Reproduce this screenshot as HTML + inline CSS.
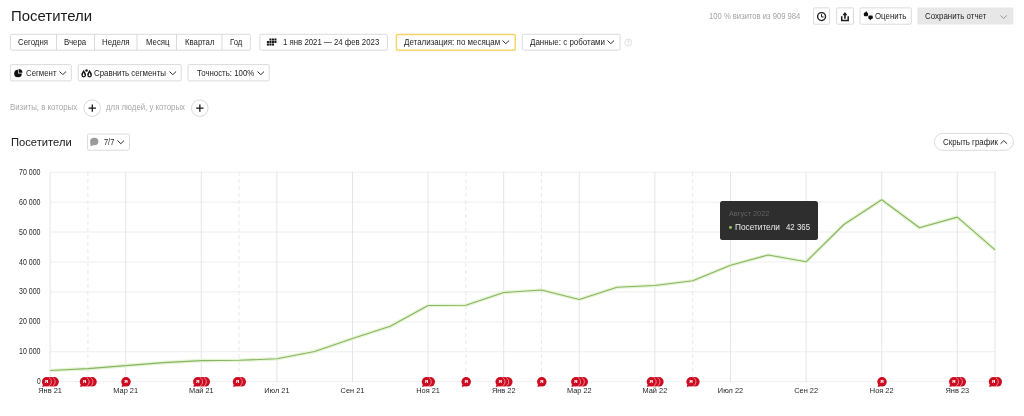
<!DOCTYPE html>
<html><head><meta charset="utf-8"><title>Посетители</title>
<style>
*{box-sizing:border-box;margin:0;padding:0}
html,body{width:1024px;height:416px;overflow:hidden;background:#fff}
body{font-family:"Liberation Sans",sans-serif;color:#222;position:relative}
#txt{position:absolute;left:0;top:0;width:1024px;height:416px;will-change:transform;transform:translateZ(0);filter:blur(0.35px)}
.abs{position:absolute}
.t{position:absolute;white-space:nowrap;line-height:1;transform-origin:0 0;display:block}
.bx{position:absolute;border:1px solid #dbdbdb;border-radius:2px;background:#fff}
</style></head><body>
<div id="txt">

<svg class="abs" style="left:0;top:0" width="1024" height="160" viewBox="0 0 1024 160"><rect x="10.4" y="34.3" width="239.90" height="15.90" rx="1.2" fill="#fff" stroke="#dbdbdb" stroke-width="1"/><line x1="56.5" x2="56.5" y1="34.3" y2="50.2" stroke="#d9d9d9" stroke-width="1"/><line x1="94.5" x2="94.5" y1="34.3" y2="50.2" stroke="#d9d9d9" stroke-width="1"/><line x1="137" x2="137" y1="34.3" y2="50.2" stroke="#d9d9d9" stroke-width="1"/><line x1="176.5" x2="176.5" y1="34.3" y2="50.2" stroke="#d9d9d9" stroke-width="1"/><line x1="222" x2="222" y1="34.3" y2="50.2" stroke="#d9d9d9" stroke-width="1"/><rect x="259.9" y="34.3" width="127.50" height="15.90" rx="1.2" fill="#fff" stroke="#dbdbdb" stroke-width="1"/><rect x="396.4" y="34.4" width="118.90" height="15.80" rx="1.2" fill="#fff" stroke="#f6d668" stroke-width="1.5"/><rect x="522.3" y="34.3" width="97.80" height="15.90" rx="1.2" fill="#fff" stroke="#dbdbdb" stroke-width="1"/><rect x="10.4" y="64.6" width="60.90" height="16.30" rx="1.2" fill="#fff" stroke="#dbdbdb" stroke-width="1"/><rect x="78.3" y="64.6" width="102.90" height="16.30" rx="1.2" fill="#fff" stroke="#dbdbdb" stroke-width="1"/><rect x="188" y="64.6" width="81.20" height="16.30" rx="1.2" fill="#fff" stroke="#dbdbdb" stroke-width="1"/><circle cx="92.2" cy="108.15" r="8.3" fill="#fff" stroke="#d8d8d8"/><circle cx="199.8" cy="108.15" r="8.3" fill="#fff" stroke="#d8d8d8"/><rect x="87.6" y="134" width="41.90" height="16.20" rx="1.2" fill="#fff" stroke="#dbdbdb" stroke-width="1"/><rect x="813.5" y="7.9" width="16.10" height="16.30" rx="1.2" fill="#fff" stroke="#dbdbdb" stroke-width="1"/><rect x="836.6" y="7.9" width="16.90" height="16.30" rx="1.2" fill="#fff" stroke="#dbdbdb" stroke-width="1"/><rect x="860" y="7.9" width="51.30" height="16.30" rx="1.2" fill="#fff" stroke="#dbdbdb" stroke-width="1"/><rect x="917.4" y="7.6" width="95.90" height="16.80" rx="1.2" fill="#e7e7e7" stroke="none" stroke-width="1"/><rect x="934.4" y="133.4" width="79.10" height="16.90" rx="8.45" fill="#fff" stroke="#dbdbdb" stroke-width="1"/><circle cx="628.3" cy="42.5" r="3.5" fill="none" stroke="#d8d8d8" stroke-width="0.8"/><path d="M627.2 41.6 A1.1 1.1 0 1 1 628.3 42.7 V43.4 M628.3 44.2 V44.9" fill="none" stroke="#d0d0d0" stroke-width="0.7"/><path d="M92.3 104.55000000000001V111.75M88.6 108.15H96.0" stroke="#1a1a1a" stroke-width="1.3"/><path d="M199.85 104.55000000000001V111.75M196.15 108.15H203.54999999999998" stroke="#1a1a1a" stroke-width="1.3"/><rect x="269.40" y="38.50" width="2.05" height="2.05" fill="#161616"/><rect x="271.90" y="38.50" width="2.05" height="2.05" fill="#161616"/><rect x="274.40" y="38.50" width="2.05" height="2.05" fill="#161616"/><rect x="266.90" y="41.00" width="2.05" height="2.05" fill="#161616"/><rect x="269.40" y="41.00" width="2.05" height="2.05" fill="#161616"/><rect x="271.90" y="41.00" width="2.05" height="2.05" fill="#161616"/><rect x="274.40" y="41.00" width="2.05" height="2.05" fill="#161616"/><rect x="266.90" y="43.50" width="2.05" height="2.05" fill="#161616"/><rect x="269.40" y="43.50" width="2.05" height="2.05" fill="#161616"/><rect x="271.90" y="43.50" width="2.05" height="2.05" fill="#161616"/><g transform="translate(14.1,69.0)" fill="#111"><path d="M3.9 0.65 A3.85 3.85 0 1 0 7.75 4.5 L3.9 4.5 Z"/><path d="M4.55 0 A3.85 3.85 0 0 1 8.4 3.85 L4.55 3.85 Z"/></g><path d="M83.7 69.7 C83.00 71.40 81.35 72.90 81.35 75.05 A2.35 2.35 0 0 0 86.05 75.05 C86.05 72.90 84.40 71.40 83.7 69.7Z" fill="#111"/><path d="M83.7 72.6 C83.00 74.30 82.70 75.80 82.70 75.30 A1.0 1.0 0 0 0 84.70 75.30 C84.70 75.80 84.40 74.30 83.7 72.6Z" fill="#fff"/><path d="M89.6 69.7 C88.90 71.40 87.25 72.90 87.25 75.05 A2.35 2.35 0 0 0 91.95 75.05 C91.95 72.90 90.30 71.40 89.6 69.7Z" fill="#111"/><path d="M89.6 72.6 C88.90 74.30 88.60 75.80 88.60 75.30 A1.0 1.0 0 0 0 90.60 75.30 C90.60 75.80 90.30 74.30 89.6 72.6Z" fill="#fff"/><circle cx="86.55" cy="70.5" r="1.25" fill="#111"/><g fill="#9a9a9a"><ellipse cx="94.25" cy="141.5" rx="4.1" ry="3.75"/><path d="M90.6 142.5 L90.5 146.3 L93.6 144.9Z"/></g><circle cx="821.55" cy="16.6" r="3.95" fill="none" stroke="#1a1a1a" stroke-width="1.35"/><path d="M821.5 14.2V16.9H823.6" fill="none" stroke="#1a1a1a" stroke-width="1"/><path d="M841.7 16.2V20.6H848.2V16.2" fill="none" stroke="#1a1a1a" stroke-width="1.5"/><path d="M844.95 18.8V14.5" stroke="#1a1a1a" stroke-width="1.6"/><path d="M842.5 15.3 L844.95 12.1 L847.4 15.3Z" fill="#1a1a1a"/><g fill="#111"><rect x="863.8" y="12.5" width="4.3" height="3.8" rx="1.3"/><path d="M865 13 L866.3 10.9 L867.2 13Z"/><rect x="868.3" y="15.4" width="4.5" height="3.6" rx="1.3"/><path d="M869.3 18.5 L870.2 20.5 L871.6 18.5Z"/></g></svg>
<svg class="abs" style="left:502.4px;top:40.2px" width="7.6" height="4.5" viewBox="0 0 7.6 4.5"><path d="M0.5 0.5 L3.80 3.7 L7.1 0.5" fill="none" stroke="#2a2a2a" stroke-width="1.0"/></svg>
<svg class="abs" style="left:607.2px;top:40.2px" width="7.6" height="4.5" viewBox="0 0 7.6 4.5"><path d="M0.5 0.5 L3.80 3.7 L7.1 0.5" fill="none" stroke="#2a2a2a" stroke-width="1.0"/></svg>
<svg class="abs" style="left:59.2px;top:70.9px" width="7.6" height="4.5" viewBox="0 0 7.6 4.5"><path d="M0.5 0.5 L3.80 3.7 L7.1 0.5" fill="none" stroke="#2a2a2a" stroke-width="1.0"/></svg>
<svg class="abs" style="left:169px;top:70.9px" width="7.6" height="4.5" viewBox="0 0 7.6 4.5"><path d="M0.5 0.5 L3.80 3.7 L7.1 0.5" fill="none" stroke="#2a2a2a" stroke-width="1.0"/></svg>
<svg class="abs" style="left:256.8px;top:70.9px" width="7.6" height="4.5" viewBox="0 0 7.6 4.5"><path d="M0.5 0.5 L3.80 3.7 L7.1 0.5" fill="none" stroke="#2a2a2a" stroke-width="1.0"/></svg>
<svg class="abs" style="left:117.1px;top:140.4px" width="7.6" height="4.5" viewBox="0 0 7.6 4.5"><path d="M0.5 0.5 L3.80 3.7 L7.1 0.5" fill="none" stroke="#2a2a2a" stroke-width="1.0"/></svg>
<svg class="abs" style="left:1000.3px;top:140.0px" width="7.6" height="4.5" viewBox="0 0 7.6 4.5"><path d="M0.5 3.8 L3.80 0.6 L7.1 3.8" fill="none" stroke="#2a2a2a" stroke-width="1.0"/></svg>
<svg class="abs" style="left:1000.4px;top:14.5px" width="7.4" height="4.2" viewBox="0 0 7.4 4.2"><path d="M0.5 0.5 L3.70 3.4 L6.9 0.5" fill="none" stroke="#8c8c8c" stroke-width="0.9"/></svg>
<svg class="abs" style="left:0;top:0" width="1024" height="416" viewBox="0 0 1024 416">
<line x1="50" x2="995.5" y1="172.2" y2="172.2" stroke="#eeeeee" stroke-width="1"/>
<line x1="50" x2="995.5" y1="202.13" y2="202.13" stroke="#eeeeee" stroke-width="1"/>
<line x1="50" x2="995.5" y1="232.06" y2="232.06" stroke="#eeeeee" stroke-width="1"/>
<line x1="50" x2="995.5" y1="261.99" y2="261.99" stroke="#eeeeee" stroke-width="1"/>
<line x1="50" x2="995.5" y1="291.91999999999996" y2="291.91999999999996" stroke="#eeeeee" stroke-width="1"/>
<line x1="50" x2="995.5" y1="321.85" y2="321.85" stroke="#eeeeee" stroke-width="1"/>
<line x1="50" x2="995.5" y1="351.78" y2="351.78" stroke="#eeeeee" stroke-width="1"/>
<line x1="50" x2="995.5" y1="381.71" y2="381.71" stroke="#eeeeee" stroke-width="1"/>
<line x1="50.1" x2="50.1" y1="172" y2="382" stroke="#e5e5e5" stroke-width="1"/>
<line x1="125.7" x2="125.7" y1="172" y2="382" stroke="#e5e5e5" stroke-width="1"/>
<line x1="201.3" x2="201.3" y1="172" y2="382" stroke="#e5e5e5" stroke-width="1"/>
<line x1="276.9" x2="276.9" y1="172" y2="382" stroke="#e5e5e5" stroke-width="1"/>
<line x1="352.5" x2="352.5" y1="172" y2="382" stroke="#e5e5e5" stroke-width="1"/>
<line x1="428.1" x2="428.1" y1="172" y2="382" stroke="#e5e5e5" stroke-width="1"/>
<line x1="503.7" x2="503.7" y1="172" y2="382" stroke="#e5e5e5" stroke-width="1"/>
<line x1="579.3" x2="579.3" y1="172" y2="382" stroke="#e5e5e5" stroke-width="1"/>
<line x1="654.9" x2="654.9" y1="172" y2="382" stroke="#e5e5e5" stroke-width="1"/>
<line x1="730.5" x2="730.5" y1="172" y2="382" stroke="#e5e5e5" stroke-width="1"/>
<line x1="806.1" x2="806.1" y1="172" y2="382" stroke="#e5e5e5" stroke-width="1"/>
<line x1="881.7" x2="881.7" y1="172" y2="382" stroke="#e5e5e5" stroke-width="1"/>
<line x1="957.3" x2="957.3" y1="172" y2="382" stroke="#e5e5e5" stroke-width="1"/>
<line x1="87.9" x2="87.9" y1="172" y2="382" stroke="#e9e9e9" stroke-width="1" stroke-dasharray="4 3"/>
<line x1="239.1" x2="239.1" y1="172" y2="382" stroke="#e9e9e9" stroke-width="1" stroke-dasharray="4 3"/>
<line x1="465.9" x2="465.9" y1="172" y2="382" stroke="#e9e9e9" stroke-width="1" stroke-dasharray="4 3"/>
<line x1="541.5" x2="541.5" y1="172" y2="382" stroke="#e9e9e9" stroke-width="1" stroke-dasharray="4 3"/>
<line x1="692.7" x2="692.7" y1="172" y2="382" stroke="#e9e9e9" stroke-width="1" stroke-dasharray="4 3"/>
<line x1="995.1" x2="995.1" y1="172" y2="382.5" stroke="#e4e4e4" stroke-width="1"/>
<polyline points="50.1,370.5 87.9,368.6 125.7,365.6 163.5,362.6 201.3,360.6 239.1,360.3 276.9,358.8 314.7,351.5 352.5,338.5 390.3,326.3 428.1,305.5 465.9,305.3 503.7,292.5 541.5,290 579.3,299.5 617.1,287.3 654.9,285.5 692.7,280.8 730.5,265.3 768.3,255 806.1,261.8 843.9,224.5 881.7,199.8 919.5,227.8 957.3,217.1 995.1,249.9" fill="none" stroke="#e6f5d6" stroke-width="3.6" stroke-linejoin="round"/>
<polyline points="50.1,370.5 87.9,368.6 125.7,365.6 163.5,362.6 201.3,360.6 239.1,360.3 276.9,358.8 314.7,351.5 352.5,338.5 390.3,326.3 428.1,305.5 465.9,305.3 503.7,292.5 541.5,290 579.3,299.5 617.1,287.3 654.9,285.5 692.7,280.8 730.5,265.3 768.3,255 806.1,261.8 843.9,224.5 881.7,199.8 919.5,227.8 957.3,217.1 995.1,249.9" fill="none" stroke="#89b463" stroke-width="1.15" stroke-linejoin="round"/>
<circle cx="54.1" cy="381.8" r="4.75" fill="#cc0b21"/>
<circle cx="50.4" cy="381.8" r="4.75" fill="#cc0b21"/>
<path d="M52.77,377.69 A4.75,4.75 0 0 1 52.77,385.91" fill="none" stroke="#f5bcc2" stroke-width="0.7"/>
<circle cx="46.6" cy="381.8" r="4.75" fill="#cc0b21"/>
<path d="M49.02,377.69 A4.75,4.75 0 0 1 49.02,385.91" fill="none" stroke="#f5bcc2" stroke-width="0.7"/>
<path d="M42.8,384.40000000000003 L42.4,387.1 L45.1,386.25 Z" fill="#cc0b21"/>
<text x="46.6" y="383.45" font-size="6.2" font-weight="bold" fill="#fff" text-anchor="middle" font-family="Liberation Sans, sans-serif">я</text>
<circle cx="92.0" cy="381.8" r="4.75" fill="#cc0b21"/>
<circle cx="88.2" cy="381.8" r="4.75" fill="#cc0b21"/>
<path d="M90.58,377.69 A4.75,4.75 0 0 1 90.58,385.91" fill="none" stroke="#f5bcc2" stroke-width="0.7"/>
<circle cx="84.5" cy="381.8" r="4.75" fill="#cc0b21"/>
<path d="M86.83,377.69 A4.75,4.75 0 0 1 86.83,385.91" fill="none" stroke="#f5bcc2" stroke-width="0.7"/>
<path d="M80.5,384.40000000000003 L80.2,387.1 L83.0,386.25 Z" fill="#cc0b21"/>
<text x="84.5" y="383.45" font-size="6.2" font-weight="bold" fill="#fff" text-anchor="middle" font-family="Liberation Sans, sans-serif">я</text>
<circle cx="126.0" cy="381.8" r="4.75" fill="#cc0b21"/>
<path d="M122.1,384.40000000000003 L121.7,387.1 L124.5,386.25 Z" fill="#cc0b21"/>
<text x="126.0" y="383.45" font-size="6.2" font-weight="bold" fill="#fff" text-anchor="middle" font-family="Liberation Sans, sans-serif">я</text>
<circle cx="205.3" cy="381.8" r="4.75" fill="#cc0b21"/>
<circle cx="201.6" cy="381.8" r="4.75" fill="#cc0b21"/>
<path d="M203.97,377.69 A4.75,4.75 0 0 1 203.97,385.91" fill="none" stroke="#f5bcc2" stroke-width="0.7"/>
<circle cx="197.8" cy="381.8" r="4.75" fill="#cc0b21"/>
<path d="M200.22,377.69 A4.75,4.75 0 0 1 200.22,385.91" fill="none" stroke="#f5bcc2" stroke-width="0.7"/>
<path d="M193.9,384.40000000000003 L193.5,387.1 L196.3,386.25 Z" fill="#cc0b21"/>
<text x="197.8" y="383.45" font-size="6.2" font-weight="bold" fill="#fff" text-anchor="middle" font-family="Liberation Sans, sans-serif">я</text>
<circle cx="241.3" cy="381.8" r="4.75" fill="#cc0b21"/>
<circle cx="237.5" cy="381.8" r="4.75" fill="#cc0b21"/>
<path d="M239.90,377.69 A4.75,4.75 0 0 1 239.90,385.91" fill="none" stroke="#f5bcc2" stroke-width="0.7"/>
<path d="M233.6,384.40000000000003 L233.2,387.1 L236.0,386.25 Z" fill="#cc0b21"/>
<text x="237.5" y="383.45" font-size="6.2" font-weight="bold" fill="#fff" text-anchor="middle" font-family="Liberation Sans, sans-serif">я</text>
<circle cx="430.3" cy="381.8" r="4.75" fill="#cc0b21"/>
<circle cx="426.5" cy="381.8" r="4.75" fill="#cc0b21"/>
<path d="M428.90,377.69 A4.75,4.75 0 0 1 428.90,385.91" fill="none" stroke="#f5bcc2" stroke-width="0.7"/>
<path d="M422.6,384.40000000000003 L422.2,387.1 L425.0,386.25 Z" fill="#cc0b21"/>
<text x="426.5" y="383.45" font-size="6.2" font-weight="bold" fill="#fff" text-anchor="middle" font-family="Liberation Sans, sans-serif">я</text>
<circle cx="466.2" cy="381.8" r="4.75" fill="#cc0b21"/>
<path d="M462.3,384.40000000000003 L461.9,387.1 L464.7,386.25 Z" fill="#cc0b21"/>
<text x="466.2" y="383.45" font-size="6.2" font-weight="bold" fill="#fff" text-anchor="middle" font-family="Liberation Sans, sans-serif">я</text>
<circle cx="507.8" cy="381.8" r="4.75" fill="#cc0b21"/>
<circle cx="504.0" cy="381.8" r="4.75" fill="#cc0b21"/>
<path d="M506.38,377.69 A4.75,4.75 0 0 1 506.38,385.91" fill="none" stroke="#f5bcc2" stroke-width="0.7"/>
<circle cx="500.2" cy="381.8" r="4.75" fill="#cc0b21"/>
<path d="M502.62,377.69 A4.75,4.75 0 0 1 502.62,385.91" fill="none" stroke="#f5bcc2" stroke-width="0.7"/>
<path d="M496.4,384.40000000000003 L495.9,387.1 L498.8,386.25 Z" fill="#cc0b21"/>
<text x="500.2" y="383.45" font-size="6.2" font-weight="bold" fill="#fff" text-anchor="middle" font-family="Liberation Sans, sans-serif">я</text>
<circle cx="541.8" cy="381.8" r="4.75" fill="#cc0b21"/>
<path d="M537.9,384.40000000000003 L537.5,387.1 L540.3,386.25 Z" fill="#cc0b21"/>
<text x="541.8" y="383.45" font-size="6.2" font-weight="bold" fill="#fff" text-anchor="middle" font-family="Liberation Sans, sans-serif">я</text>
<circle cx="583.3" cy="381.8" r="4.75" fill="#cc0b21"/>
<circle cx="579.6" cy="381.8" r="4.75" fill="#cc0b21"/>
<path d="M581.97,377.69 A4.75,4.75 0 0 1 581.97,385.91" fill="none" stroke="#f5bcc2" stroke-width="0.7"/>
<circle cx="575.8" cy="381.8" r="4.75" fill="#cc0b21"/>
<path d="M578.22,377.69 A4.75,4.75 0 0 1 578.22,385.91" fill="none" stroke="#f5bcc2" stroke-width="0.7"/>
<path d="M571.9,384.40000000000003 L571.5,387.1 L574.3,386.25 Z" fill="#cc0b21"/>
<text x="575.8" y="383.45" font-size="6.2" font-weight="bold" fill="#fff" text-anchor="middle" font-family="Liberation Sans, sans-serif">я</text>
<circle cx="658.9" cy="381.8" r="4.75" fill="#cc0b21"/>
<circle cx="655.2" cy="381.8" r="4.75" fill="#cc0b21"/>
<path d="M657.57,377.69 A4.75,4.75 0 0 1 657.57,385.91" fill="none" stroke="#f5bcc2" stroke-width="0.7"/>
<circle cx="651.4" cy="381.8" r="4.75" fill="#cc0b21"/>
<path d="M653.82,377.69 A4.75,4.75 0 0 1 653.82,385.91" fill="none" stroke="#f5bcc2" stroke-width="0.7"/>
<path d="M647.5,384.40000000000003 L647.1,387.1 L649.9,386.25 Z" fill="#cc0b21"/>
<text x="651.4" y="383.45" font-size="6.2" font-weight="bold" fill="#fff" text-anchor="middle" font-family="Liberation Sans, sans-serif">я</text>
<circle cx="694.9" cy="381.8" r="4.75" fill="#cc0b21"/>
<circle cx="691.1" cy="381.8" r="4.75" fill="#cc0b21"/>
<path d="M693.50,377.69 A4.75,4.75 0 0 1 693.50,385.91" fill="none" stroke="#f5bcc2" stroke-width="0.7"/>
<path d="M687.2,384.40000000000003 L686.8,387.1 L689.6,386.25 Z" fill="#cc0b21"/>
<text x="691.1" y="383.45" font-size="6.2" font-weight="bold" fill="#fff" text-anchor="middle" font-family="Liberation Sans, sans-serif">я</text>
<circle cx="882.0" cy="381.8" r="4.75" fill="#cc0b21"/>
<path d="M878.1,384.40000000000003 L877.7,387.1 L880.5,386.25 Z" fill="#cc0b21"/>
<text x="882.0" y="383.45" font-size="6.2" font-weight="bold" fill="#fff" text-anchor="middle" font-family="Liberation Sans, sans-serif">я</text>
<circle cx="961.3" cy="381.8" r="4.75" fill="#cc0b21"/>
<circle cx="957.6" cy="381.8" r="4.75" fill="#cc0b21"/>
<path d="M959.97,377.69 A4.75,4.75 0 0 1 959.97,385.91" fill="none" stroke="#f5bcc2" stroke-width="0.7"/>
<circle cx="953.8" cy="381.8" r="4.75" fill="#cc0b21"/>
<path d="M956.22,377.69 A4.75,4.75 0 0 1 956.22,385.91" fill="none" stroke="#f5bcc2" stroke-width="0.7"/>
<path d="M949.9,384.40000000000003 L949.5,387.1 L952.3,386.25 Z" fill="#cc0b21"/>
<text x="953.8" y="383.45" font-size="6.2" font-weight="bold" fill="#fff" text-anchor="middle" font-family="Liberation Sans, sans-serif">я</text>
<circle cx="997.3" cy="381.8" r="4.75" fill="#cc0b21"/>
<circle cx="993.5" cy="381.8" r="4.75" fill="#cc0b21"/>
<path d="M995.90,377.69 A4.75,4.75 0 0 1 995.90,385.91" fill="none" stroke="#f5bcc2" stroke-width="0.7"/>
<path d="M989.6,384.40000000000003 L989.2,387.1 L992.0,386.25 Z" fill="#cc0b21"/>
<text x="993.5" y="383.45" font-size="6.2" font-weight="bold" fill="#fff" text-anchor="middle" font-family="Liberation Sans, sans-serif">я</text>
</svg>
<div class="abs" style="left:719.6px;top:201.2px;width:98.4px;height:38.5px;background:#2e2e2e;border-radius:2.5px"></div>
<div class="abs" style="left:728.8px;top:225.8px;width:2.8px;height:2.8px;border-radius:50%;background:#8fbf5e"></div>
<span class="t" id="t0" style="left:10.50px;top:8.00px;font-size:15.4px;color:#1a1a1a;transform:scaleX(0.9699);">Посетители</span>
<span class="t" id="t1" style="left:18.00px;top:38.00px;font-size:8.8px;color:#1e1e1e;transform:scaleX(0.8897);">Сегодня</span>
<span class="t" id="t2" style="left:64.00px;top:38.00px;font-size:8.8px;color:#1e1e1e;transform:scaleX(0.8956);">Вчера</span>
<span class="t" id="t3" style="left:102.00px;top:38.00px;font-size:8.8px;color:#1e1e1e;transform:scaleX(0.8961);">Неделя</span>
<span class="t" id="t4" style="left:145.75px;top:38.00px;font-size:8.8px;color:#1e1e1e;transform:scaleX(0.8857);">Месяц</span>
<span class="t" id="t5" style="left:185.00px;top:38.00px;font-size:8.8px;color:#1e1e1e;transform:scaleX(0.8872);">Квартал</span>
<span class="t" id="t6" style="left:230.25px;top:38.00px;font-size:8.8px;color:#1e1e1e;transform:scaleX(0.8740);">Год</span>
<span class="t" id="t7" style="left:283.00px;top:38.00px;font-size:8.8px;color:#1e1e1e;transform:scaleX(0.8880);">1 янв 2021 — 24 фев 2023</span>
<span class="t" id="t8" style="left:403.50px;top:38.00px;font-size:8.8px;color:#1e1e1e;transform:scaleX(0.9068);">Детализация: по месяцам</span>
<span class="t" id="t9" style="left:529.75px;top:38.00px;font-size:8.8px;color:#1e1e1e;transform:scaleX(0.9055);">Данные: с роботами</span>
<span class="t" id="t10" style="left:25.75px;top:69.00px;font-size:8.8px;color:#1e1e1e;transform:scaleX(0.8897);">Сегмент</span>
<span class="t" id="t11" style="left:94.00px;top:69.00px;font-size:8.8px;color:#1e1e1e;transform:scaleX(0.8967);">Сравнить сегменты</span>
<span class="t" id="t12" style="left:196.50px;top:69.00px;font-size:8.8px;color:#1e1e1e;transform:scaleX(0.8928);">Точность: 100%</span>
<span class="t" id="t13" style="left:9.90px;top:103.00px;font-size:8.4px;color:#a9a9a9;transform:scaleX(0.9374);">Визиты, в которых</span>
<span class="t" id="t14" style="left:106.00px;top:103.00px;font-size:8.4px;color:#a9a9a9;transform:scaleX(0.9347);">для людей, у которых</span>
<span class="t" id="t15" style="left:10.70px;top:137.00px;font-size:11.4px;color:#1a1a1a;transform:scaleX(0.9820);">Посетители</span>
<span class="t" id="t16" style="left:103.50px;top:138.00px;font-size:8.8px;color:#1e1e1e;transform:scaleX(0.8419);">7/7</span>
<span class="t" id="t17" style="left:709.00px;top:12.00px;font-size:8.4px;color:#a3a3a3;transform:scaleX(0.9129);">100 % визитов из 909 984</span>
<span class="t" id="t18" style="left:875.00px;top:12.00px;font-size:8.8px;color:#1e1e1e;transform:scaleX(0.8927);">Оценить</span>
<span class="t" id="t19" style="left:925.40px;top:12.00px;font-size:8.8px;color:#1e1e1e;transform:scaleX(0.9000);">Сохранить отчет</span>
<span class="t" id="t20" style="left:942.90px;top:138.00px;font-size:8.8px;color:#1e1e1e;transform:scaleX(0.8948);">Скрыть график</span>
<span class="t" id="t21" style="left:19.30px;top:169.00px;font-size:8.2px;color:#2a2a2a;transform:scaleX(0.8584);">70 000</span>
<span class="t" id="t22" style="left:19.30px;top:199.00px;font-size:8.2px;color:#2a2a2a;transform:scaleX(0.8584);">60 000</span>
<span class="t" id="t23" style="left:19.30px;top:229.00px;font-size:8.2px;color:#2a2a2a;transform:scaleX(0.8584);">50 000</span>
<span class="t" id="t24" style="left:19.30px;top:259.00px;font-size:8.2px;color:#2a2a2a;transform:scaleX(0.8584);">40 000</span>
<span class="t" id="t25" style="left:19.30px;top:288.00px;font-size:8.2px;color:#2a2a2a;transform:scaleX(0.8584);">30 000</span>
<span class="t" id="t26" style="left:19.30px;top:318.00px;font-size:8.2px;color:#2a2a2a;transform:scaleX(0.8584);">20 000</span>
<span class="t" id="t27" style="left:19.30px;top:348.00px;font-size:8.2px;color:#2a2a2a;transform:scaleX(0.8584);">10 000</span>
<span class="t" id="t28" style="left:37.10px;top:378.00px;font-size:8.2px;color:#2a2a2a;transform:scaleX(0.8110);">0</span>
<span class="t" id="t29" style="left:38.29px;top:387.00px;font-size:7.4px;color:#262626;transform:scaleX(1.0000);">Янв 21</span>
<span class="t" id="t30" style="left:113.33px;top:387.00px;font-size:7.4px;color:#262626;transform:scaleX(1.0000);">Мар 21</span>
<span class="t" id="t31" style="left:188.92px;top:387.00px;font-size:7.4px;color:#262626;transform:scaleX(1.0000);">Май 21</span>
<span class="t" id="t32" style="left:264.26px;top:387.00px;font-size:7.4px;color:#262626;transform:scaleX(1.0000);">Июл 21</span>
<span class="t" id="t33" style="left:340.59px;top:387.00px;font-size:7.4px;color:#262626;transform:scaleX(1.0000);">Сен 21</span>
<span class="t" id="t34" style="left:416.23px;top:387.00px;font-size:7.4px;color:#262626;transform:scaleX(1.0000);">Ноя 21</span>
<span class="t" id="t35" style="left:491.89px;top:387.00px;font-size:7.4px;color:#262626;transform:scaleX(1.0000);">Янв 22</span>
<span class="t" id="t36" style="left:566.93px;top:387.00px;font-size:7.4px;color:#262626;transform:scaleX(1.0000);">Мар 22</span>
<span class="t" id="t37" style="left:642.52px;top:387.00px;font-size:7.4px;color:#262626;transform:scaleX(1.0000);">Май 22</span>
<span class="t" id="t38" style="left:717.86px;top:387.00px;font-size:7.4px;color:#262626;transform:scaleX(1.0000);">Июл 22</span>
<span class="t" id="t39" style="left:794.19px;top:387.00px;font-size:7.4px;color:#262626;transform:scaleX(1.0000);">Сен 22</span>
<span class="t" id="t40" style="left:869.83px;top:387.00px;font-size:7.4px;color:#262626;transform:scaleX(1.0000);">Ноя 22</span>
<span class="t" id="t41" style="left:945.49px;top:387.00px;font-size:7.4px;color:#262626;transform:scaleX(1.0000);">Янв 23</span>
<span class="t" id="t42" style="left:729.20px;top:210.00px;font-size:8.0px;color:#626262;transform:scaleX(0.9136);">Август 2022</span>
<span class="t" id="t43" style="left:734.60px;top:223.00px;font-size:8.8px;color:#ededed;transform:scaleX(0.9406);">Посетители</span>
<span class="t" id="t44" style="left:785.50px;top:223.00px;font-size:8.8px;color:#ededed;transform:scaleX(0.8920);">42 365</span>
</div>
</body></html>
